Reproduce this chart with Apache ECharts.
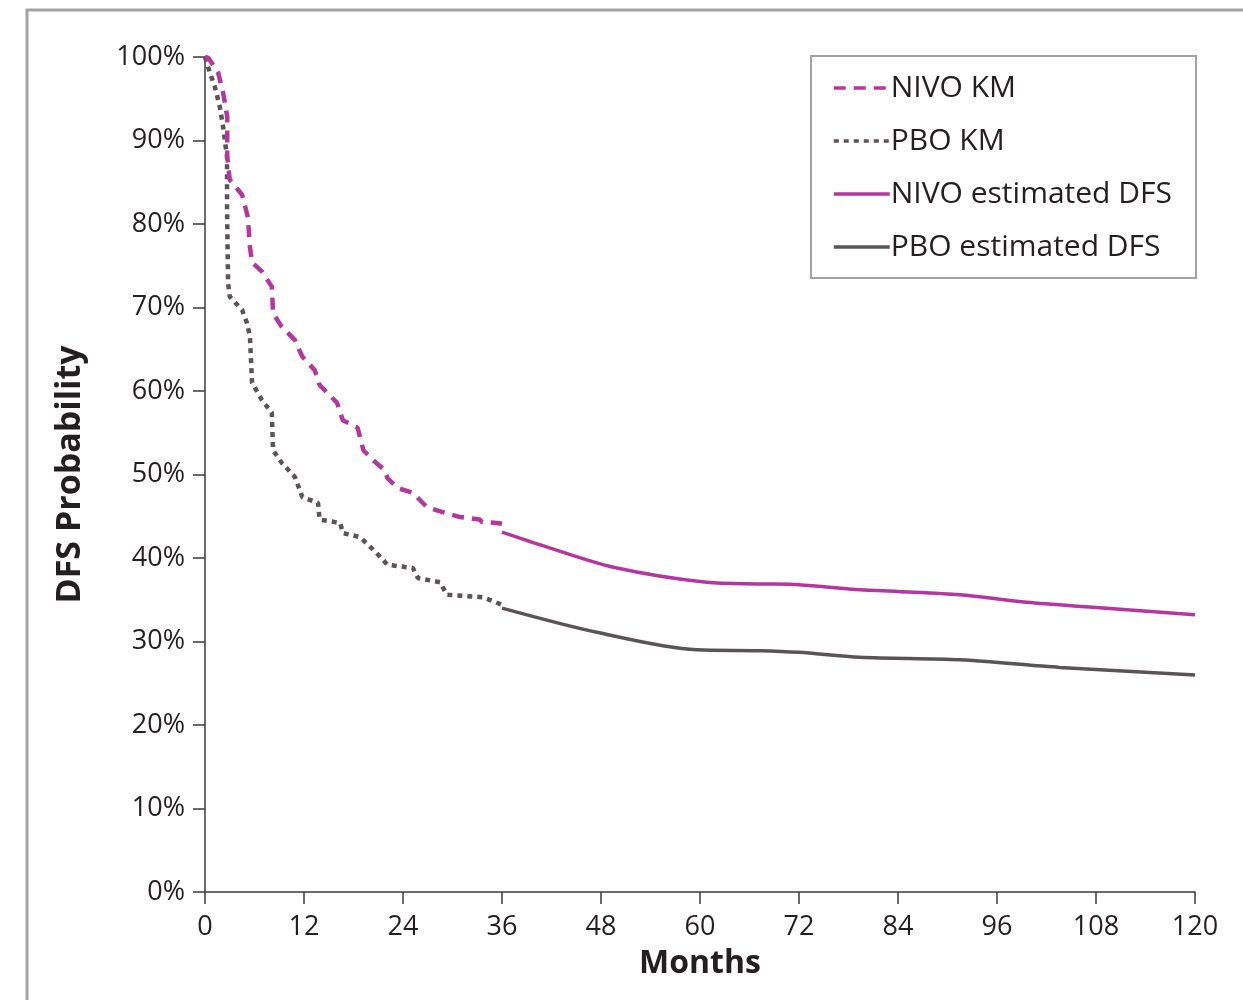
<!DOCTYPE html>
<html>
<head>
<meta charset="utf-8">
<title>DFS Probability</title>
<script src="https://cdn.jsdelivr.net/npm/echarts@6/dist/echarts.min.js"></script>
<style>
  html, body { margin: 0; padding: 0; background: #fff; }
  #chart { width: 1243px; height: 1000px; }
</style>
</head>
<body>
<div id="chart"></div>
<script>
// KM curves (months, DFS %)
const nivoKmMonths = [0, 0.4, 1.6, 2.2, 2.7, 2.7, 3.0, 4.5, 5.2, 5.45, 5.7, 6.9, 8.1, 8.25, 9.3, 10.9, 11.8, 13.3, 13.9, 16.0, 16.7, 18.5, 19.2, 20.4, 21.8, 22.1, 23.3, 25.2, 26.9, 28.8, 30.9, 33.3, 33.6, 35.4, 36];
const nivoKmValues = [100, 99.9, 98.1, 95.7, 92.8, 88.0, 85.3, 83.5, 80.8, 77.2, 75.4, 74.3, 72.5, 69.3, 67.7, 66.1, 64.1, 62.5, 60.7, 58.6, 56.5, 55.6, 52.9, 51.7, 50.5, 49.6, 48.4, 47.8, 46.1, 45.5, 44.9, 44.6, 44.3, 44.2, 44.1];

const pboKmMonths = [0, 0.6, 1.2, 1.8, 2.2, 2.67, 2.67, 2.8, 3.0, 4.5, 5.1, 5.45, 5.7, 6.9, 8.1, 8.25, 9.3, 10.9, 11.8, 13.7, 13.9, 16.4, 16.7, 18.8, 20.8, 22.1, 25.2, 25.8, 28.5, 29.3, 33.7, 36];
const pboKmValues = [100, 98.1, 96.4, 94.0, 91.6, 88.0, 82.0, 72.9, 71.3, 69.7, 68.1, 66.5, 61.0, 58.9, 57.4, 52.9, 51.4, 49.7, 47.3, 46.6, 44.6, 44.2, 43.0, 42.5, 40.6, 39.2, 38.8, 37.6, 37.1, 35.6, 35.3, 34.4];

// Estimated DFS beyond 36 months
const nivoEstMonths = [36, 41.5, 49.5, 60.8, 67.3, 72, 79.4, 84, 91.5, 99.6, 107.6, 120];
const nivoEstValues = [43.1, 41.3, 38.9, 37.1, 36.9, 36.8, 36.2, 36.0, 35.6, 34.7, 34.1, 33.2];

const pboEstMonths = [36, 47.5, 59.6, 67.3, 72, 79.4, 91.5, 103.6, 120];
const pboEstValues = [34.0, 31.1, 29.0, 28.9, 28.7, 28.1, 27.8, 26.9, 26.0];

const xTicks = { min: 0, max: 120, interval: 12 };
const yTicks = { min: 0, max: 100, interval: 10 };

const PINK = '#b5369f';
const GREY = '#5a5455';
const FONT = '"Open Sans", sans-serif';

function pairs(xs, ys) {
  return xs.map((x, i) => [x, ys[i]]);
}

const chart = echarts.init(document.getElementById('chart'), null, { renderer: 'canvas' });

const axisLine = { show: true, lineStyle: { color: '#3a3a3a', width: 1.5 } };
const axisTick = { show: true, length: 12, lineStyle: { color: '#3a3a3a', width: 1.5 } };

chart.setOption({
  animation: false,
  backgroundColor: '#fff',
  graphic: [{
    type: 'rect',
    shape: { x: 27, y: 10, width: 1400, height: 1200 },
    style: { fill: 'none', stroke: '#a3a3a3', lineWidth: 3 },
    silent: true
  }],
  grid: { left: 205, right: 48, top: 57, bottom: 108 },
  legend: {
    left: 811,
    top: 56,
    orient: 'vertical',
    itemWidth: 56,
    itemHeight: 14,
    itemGap: 23,
    padding: [17, 24, 16, 21],
    borderColor: '#a3a3a3',
    borderWidth: 2,
    itemStyle: { opacity: 0 },
    lineStyle: { width: 3.5 },
    textStyle: { fontFamily: FONT, fontSize: 30, lineHeight: 30, color: '#231f20', padding: [0, 0, 0, -4] },
    data: ['NIVO KM', 'PBO KM', 'NIVO estimated DFS', 'PBO estimated DFS']
  },
  xAxis: {
    type: 'value',
    min: xTicks.min,
    max: xTicks.max,
    interval: xTicks.interval,
    name: 'Months',
    nameLocation: 'middle',
    nameGap: 56,
    nameTextStyle: { fontFamily: FONT, fontSize: 32, fontWeight: 'bold', color: '#231f20' },
    axisLine, axisTick,
    splitLine: { show: false },
    axisLabel: { margin: 22, fontFamily: FONT, fontSize: 27, color: '#231f20' }
  },
  yAxis: {
    type: 'value',
    min: yTicks.min,
    max: yTicks.max,
    interval: yTicks.interval,
    name: 'DFS Probability',
    nameLocation: 'middle',
    nameGap: 118,
    nameRotate: 90,
    nameTextStyle: { fontFamily: FONT, fontSize: 34, fontWeight: 'bold', color: '#231f20' },
    axisLine, axisTick,
    splitLine: { show: false },
    axisLabel: { margin: 20, fontFamily: FONT, fontSize: 27, color: '#231f20', formatter: '{value}%' }
  },
  series: [
    {
      name: 'NIVO KM', type: 'line', symbol: 'none', z: 3,
      data: pairs(nivoKmMonths, nivoKmValues),
      lineStyle: { color: PINK, width: 4.5, type: [12, 8] },
      itemStyle: { color: PINK }
    },
    {
      name: 'PBO KM', type: 'line', symbol: 'none', z: 2,
      data: pairs(pboKmMonths, pboKmValues),
      lineStyle: { color: GREY, width: 4.5, type: [5, 5] },
      itemStyle: { color: GREY }
    },
    {
      name: 'NIVO estimated DFS', type: 'line', symbol: 'none', smooth: 0.3,
      data: pairs(nivoEstMonths, nivoEstValues),
      lineStyle: { color: PINK, width: 3.5 },
      itemStyle: { color: PINK }
    },
    {
      name: 'PBO estimated DFS', type: 'line', symbol: 'none', smooth: 0.3,
      data: pairs(pboEstMonths, pboEstValues),
      lineStyle: { color: GREY, width: 3.5 },
      itemStyle: { color: GREY }
    }
  ]
});
</script>
</body>
</html>
